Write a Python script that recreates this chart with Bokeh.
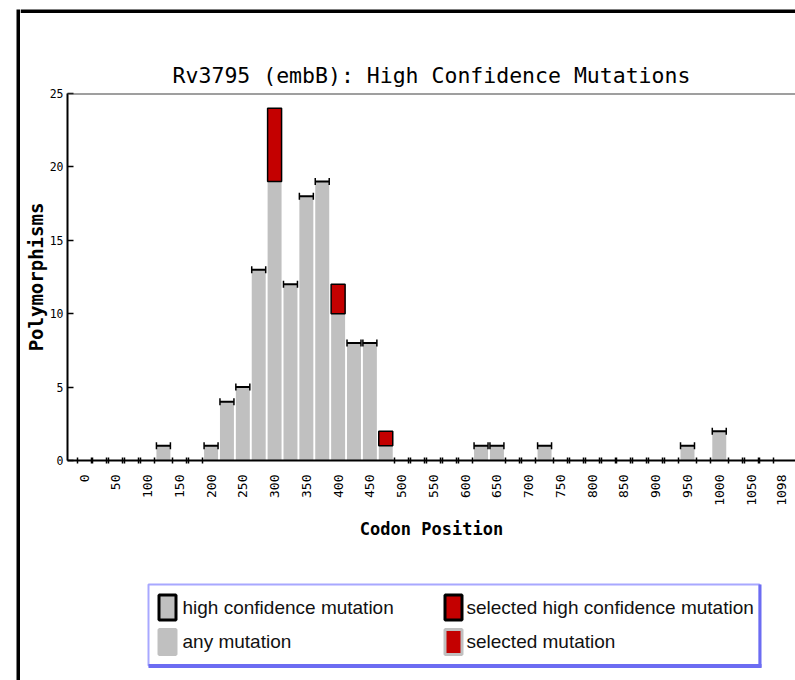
import math
from bokeh.plotting import figure
from bokeh.models import Range1d, FixedTicker, Span
from bokeh.layouts import column, row
from bokeh.embed import file_html
from bokeh.resources import INLINE
from bokeh.core.properties import value

# ---------------- data ----------------
title_text = "Rv3795 (embB): High Confidence Mutations"
x_label = "Codon Position"
y_label = "Polymorphisms"

codon_bins = list(range(0, 1100, 25))  # bin centres, 25 codons per bin
any_mutation = [0, 0, 0, 0, 0, 1, 0, 0, 1, 4, 5, 13, 19, 12, 18, 19, 10, 8, 8, 1,
                0, 0, 0, 0, 0, 1, 1, 0, 0, 1, 0, 0, 0, 0, 0, 0, 0, 0, 1, 0,
                2, 0, 0, 0]
selected_mutation = [0, 0, 0, 0, 0, 0, 0, 0, 0, 0, 0, 0, 5, 0, 0, 0, 2, 0, 0, 1,
                     0, 0, 0, 0, 0, 0, 0, 0, 0, 0, 0, 0, 0, 0, 0, 0, 0, 0, 0, 0,
                     0, 0, 0, 0]
x_tick_values = list(range(0, 1100, 50)) + [1098]
y_tick_values = [0, 5, 10, 15, 20, 25]
legend_labels = ["high confidence mutation", "any mutation",
                 "selected high confidence mutation", "selected mutation"]

GREY = "#c0c0c0"
RED = "#c40000"
BAR_W = 22
HALF = BAR_W / 2


def blank(width, height, xr, yr):
    f = figure(width=width, height=height, x_range=Range1d(*xr), y_range=Range1d(*yr),
               output_backend="svg", toolbar_location=None,
               min_border=0, min_border_left=0, min_border_right=0,
               min_border_top=0, min_border_bottom=0,
               x_axis_type=None, y_axis_type=None)
    f.frame_align = False
    f.outline_line_color = None
    f.background_fill_color = "white"
    f.border_fill_color = "white"
    return f


# ---------------- page border strips ----------------
left_strip = blank(20, 680, (0, 20), (680, 0))
left_strip.quad(left=[16], right=[20], top=[9], bottom=[680], fill_color="black", line_color=None)

top_strip = blank(775, 13, (20, 795), (13, 0))
top_strip.quad(left=[20], right=[795], top=[9], bottom=[13], fill_color="black", line_color=None)

# ---------------- chart ----------------
p = figure(width=775, height=557, x_range=Range1d(-26, 1120), y_range=Range1d(0, 25),
           output_backend="svg", toolbar_location=None,
           min_border_left=47, min_border_right=0, min_border_top=80, min_border_bottom=110,
           title=title_text)
p.frame_align = False
p.xgrid.visible = False
p.ygrid.visible = False
p.outline_line_color = None
p.background_fill_color = "white"
p.border_fill_color = "white"

p.title.align = "center"
p.title.text_font = "DejaVu Sans Mono"
p.title.text_font_size = "21.5px"
p.title.text_font_style = "normal"
p.title.text_color = "black"
p.title.standoff = 12

# grey bars
gx = [c for c, a in zip(codon_bins, any_mutation) if a > 0]
gt = [a for a in any_mutation if a > 0]
p.vbar(x=gx, top=gt, bottom=0, width=BAR_W, fill_color=GREY, line_color=None)

# red selected segments
sx = [c for c, s in zip(codon_bins, selected_mutation) if s > 0]
sb = [a for a, s in zip(any_mutation, selected_mutation) if s > 0]
st = [a + s for a, s in zip(any_mutation, selected_mutation) if s > 0]
p.vbar(x=sx, bottom=sb, top=st, width=BAR_W, fill_color=RED, line_color="black", line_width=1.5)

# high-confidence caps on non-selected, non-empty bins
cx = [c for c, a, s in zip(codon_bins, any_mutation, selected_mutation) if a > 0 and s == 0]
cy = [a for a, s in zip(any_mutation, selected_mutation) if a > 0 and s == 0]
p.segment(x0=[c - HALF for c in cx], x1=[c + HALF for c in cx], y0=cy, y1=cy,
          line_color="black", line_width=2)
p.scatter(x=[c - HALF for c in cx] + [c + HALF for c in cx], y=cy + cy, marker="dash",
          angle=math.pi / 2, size=7, line_color="black", line_width=1.5)

# empty bins: cap ends drawn as axis minor ticks
zero_edges = []
for c, a, s in zip(codon_bins, any_mutation, selected_mutation):
    if a == 0 and s == 0:
        zero_edges += [c - HALF, c + HALF]

p.xaxis.ticker = FixedTicker(ticks=x_tick_values, minor_ticks=zero_edges)
p.xaxis.major_label_orientation = math.pi / 2
p.xaxis.major_tick_line_color = None
p.xaxis.major_tick_out = 0
p.xaxis.major_tick_in = 0
p.xaxis.minor_tick_in = 3
p.xaxis.minor_tick_out = 3
p.xaxis.minor_tick_line_color = "black"
p.xaxis.minor_tick_line_width = 1.5
p.xaxis.major_label_standoff = 11
p.xaxis.major_label_text_font = "DejaVu Sans Mono"
p.xaxis.major_label_text_font_size = "13px"
p.xaxis.major_label_text_color = "black"
p.xaxis.axis_line_width = 2
p.xaxis.axis_line_color = "black"
p.xaxis.axis_label = x_label
p.xaxis.axis_label_text_font = "DejaVu Sans Mono"
p.xaxis.axis_label_text_font_style = "bold"
p.xaxis.axis_label_text_font_size = "17px"
p.xaxis.axis_label_text_color = "black"
p.xaxis.axis_label_standoff = 10

p.yaxis.ticker = FixedTicker(ticks=y_tick_values)
p.yaxis.minor_tick_line_color = None
p.yaxis.major_tick_in = 6
p.yaxis.major_tick_out = 0
p.yaxis.major_tick_line_width = 1.5
p.yaxis.major_tick_line_color = "black"
p.yaxis.major_label_standoff = 4
p.yaxis.major_label_text_font = "DejaVu Sans Mono"
p.yaxis.major_label_text_font_size = "11.5px"
p.yaxis.major_label_text_color = "black"
p.yaxis.axis_line_width = 2
p.yaxis.axis_line_color = "black"
p.yaxis.axis_label = y_label
p.yaxis.axis_label_text_font = "DejaVu Sans Mono"
p.yaxis.axis_label_text_font_style = "bold"
p.yaxis.axis_label_text_font_size = "19px"
p.yaxis.axis_label_text_color = "black"
p.yaxis.axis_label_standoff = 0

p.add_layout(Span(location=25, dimension="width", line_color="#404040", line_width=2))

# ---------------- legend panel ----------------
lg = blank(775, 110, (20, 795), (680, 570))
lg.quad(left=[148], right=[759], top=[584], bottom=[665], fill_color="white",
        line_color="#a8a8ff", line_width=2)
lg.segment(x0=[148], x1=[761], y0=[665.5], y1=[665.5], line_color="#6c6cf2", line_width=4)
lg.segment(x0=[759.5], x1=[759.5], y0=[584], y1=[667], line_color="#6c6cf2", line_width=3)

sw_x = [167, 167, 453, 453]
sw_y = [607, 641.5, 607, 641.5]
sw_fill = [GREY, GREY, RED, RED]
sw_line = ["black", GREY, "black", GREY]
lg.rect(x=sw_x, y=sw_y, width=17, height=25, fill_color=sw_fill, line_color=sw_line,
        line_width=3)
lg.text(x=[182, 182, 466, 466], y=[607, 641, 607, 641], text=legend_labels,
        text_font=value("Liberation Sans"), text_font_size="19px",
        text_baseline="middle", text_align="left", text_color="#111111")

layout = row(left_strip, column(top_strip, p, lg))
open("out.html", "w").write(file_html(layout, INLINE))
